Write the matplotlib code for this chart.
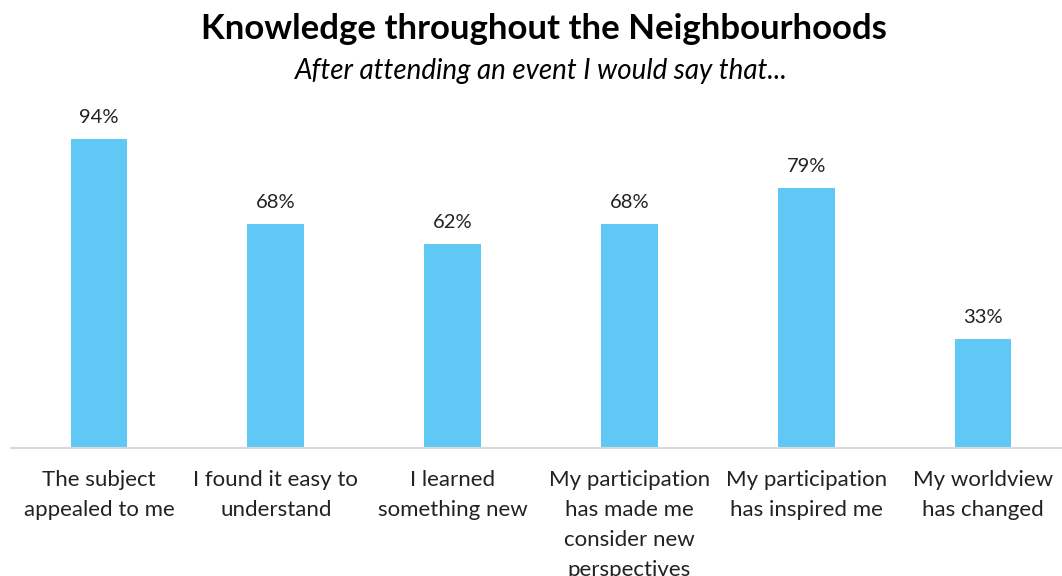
import matplotlib.pyplot as plt

categories = [
    "The subject\nappealed to me",
    "I found it easy to\nunderstand",
    "I learned\nsomething new",
    "My participation\nhas made me\nconsider new\nperspectives",
    "My participation\nhas inspired me",
    "My worldview\nhas changed",
]
values = [94, 68, 62, 68, 79, 33]

plt.rcParams['font.family'] = ['Lato', 'DejaVu Sans']

fig = plt.figure(figsize=(10.62, 5.76), dpi=100)
ax = fig.add_axes([10.5 / 1062, 1 - 448 / 576, 1061 / 1062, 329 / 576])

x = range(len(values))
ax.bar(x, values, width=0.32, color='#5fc8f4')
for xi, v in zip(x, values):
    ax.text(xi, v + 4, f"{v}%", ha='center', va='bottom', fontsize=14.5, color='#222222')

ax.set_xlim(-0.5, 5.5)
ax.set_ylim(0, 100)
ax.set_yticks([])
ax.set_xticks(list(x))
ax.set_xticklabels(categories, fontsize=16, color='#222222', linespacing=1.62, va='top')
ax.tick_params(axis='x', length=0, pad=16)
for s in ['top', 'left', 'right']:
    ax.spines[s].set_visible(False)
ax.spines['bottom'].set_color('#d9d9d9')
ax.spines['bottom'].set_linewidth(1.5)

fig.text(0.512, 1 - 29 / 576, "Knowledge throughout the Neighbourhoods", ha='center', va='center',
         fontsize=25, fontweight='bold', color='black')
fig.text(0.51, 1 - 71 / 576, "After attending an event I would say that...", ha='center', va='center',
         fontsize=20, fontstyle='italic', color='black')

fig.savefig('out.png', dpi=100)
